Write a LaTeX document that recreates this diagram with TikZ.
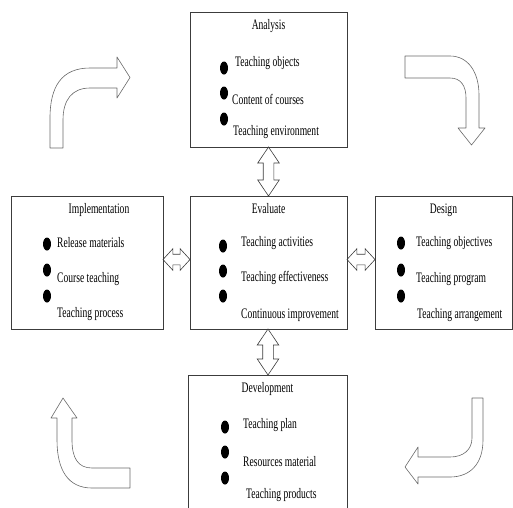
\documentclass[tikz,border=0pt]{standalone}
\usepackage{fontspec}
\setmainfont{Liberation Serif}
\usetikzlibrary{calc,positioning,shapes.arrows}
\definecolor{boxgray}{RGB}{60,60,60}
\definecolor{arrowgray}{RGB}{105,105,105}
\newcommand{\squeezed}[1]{\scalebox{0.66}[1]{#1}}

\tikzset{
  stage/.style={draw=boxgray, line width=0.7pt, inner sep=0pt},
  stagetitle/.style={inner sep=0pt, font=\fontsize{14.5}{17}\selectfont},
  stageitem/.style={anchor=west, inner sep=0pt, font=\fontsize{14.5}{17}\selectfont},
  link/.style={draw=boxgray, line width=0.6pt, double arrow, inner sep=5pt,
    minimum width=21pt, double arrow head extend=5.5pt, double arrow tip angle=#1},
  turn/.style={draw=arrowgray, line width=0.6pt, line join=round}
}

\begin{document}
\begin{tikzpicture}[x=1pt, y=-1pt]
  \useasboundingbox (0,0) rectangle (513,507);
  \clip (0,0) rectangle (513,507);

  % the five stages
  \node[stage, minimum width=157pt, minimum height=135pt] (ana) at (268.5,79.5) {};
  \node[stage, minimum width=157pt, minimum height=133pt] (eva) at (268.5,262.5) {};
  \node[stage, minimum width=152pt, minimum height=133pt] (imp) at (87,262.5) {};
  \node[stage, minimum width=137pt, minimum height=133pt] (des) at (443.5,262.5) {};
  \node[stage, minimum width=159pt, minimum height=136pt] (dev) at (267.5,443) {};

  % titles
  \node[stagetitle, below=8pt of ana.north] (ana-t) {\squeezed{Analysis}};
  \node[stagetitle, below=8pt of eva.north] (eva-t) {\squeezed{Evaluate}};
  \node[stagetitle, below=8pt of imp.north, xshift=12pt] (imp-t) {\squeezed{Implementation}};
  \node[stagetitle, below=8pt of des.north] (des-t) {\squeezed{Design}};
  \node[stagetitle, below=8pt of dev.north] (dev-t) {\squeezed{Development}};

  % Analysis
  \fill (224,68) ellipse (4 and 6.5);
  \fill (224,93) ellipse (4 and 6.5);
  \fill (224,119) ellipse (4 and 6.5);
  \node[stageitem] (ana-1) at (235,63) {\squeezed{Teaching objects}};
  \node[stageitem] (ana-2) at (232,99) {\squeezed{Content of courses}};
  \node[stageitem] (ana-3) at (233,132) {\squeezed{Teaching environment}};

  % Evaluate
  \fill (223,246) ellipse (4 and 6.5);
  \fill (223,271) ellipse (4 and 6.5);
  \fill (223,296) ellipse (4 and 6.5);
  \node[stageitem] (eva-1) at (241,243) {\squeezed{Teaching activities}};
  \node[stageitem] (eva-2) at (241,278) {\squeezed{Teaching effectiveness}};
  \node[stageitem] (eva-3) at (241,315) {\squeezed{Continuous improvement}};

  % Implementation
  \fill (47,244) ellipse (4 and 6.5);
  \fill (47,270) ellipse (4 and 6.5);
  \fill (47,296) ellipse (4 and 6.5);
  \node[stageitem] (imp-1) at (57,243) {\squeezed{Release materials}};
  \node[stageitem] (imp-2) at (57,279) {\squeezed{Course teaching}};
  \node[stageitem] (imp-3) at (57,314) {\squeezed{Teaching process}};

  % Design
  \fill (401,243) ellipse (4 and 6.5);
  \fill (401,270) ellipse (4 and 6.5);
  \fill (401,296) ellipse (4 and 6.5);
  \node[stageitem] (des-1) at (416,243) {\squeezed{Teaching objectives}};
  \node[stageitem] (des-2) at (416,279) {\squeezed{Teaching program}};
  \node[stageitem] (des-3) at (417,315) {\squeezed{Teaching arrangement}};

  % Development
  \fill (225,427) ellipse (4 and 6.5);
  \fill (225,452) ellipse (4 and 6.5);
  \fill (225,478) ellipse (4 and 6.5);
  \node[stageitem] (dev-1) at (243,425) {\squeezed{Teaching plan}};
  \node[stageitem] (dev-2) at (243,462) {\squeezed{Resources material}};
  \node[stageitem] (dev-3) at (246,495) {\squeezed{Teaching products}};

  % links to the centre
  \node[link=68, rotate=90, minimum height=49pt] (ana-eva) at ($(ana.south)!0.5!(eva.north)$) {};
  \node[link=68, rotate=90, minimum height=46pt] (eva-dev) at ($(eva.south)!0.5!(dev.north)$) {};
  \node[link=95, minimum height=27pt, yshift=3pt] (imp-eva) at ($(imp.east)!0.5!(eva.west)$) {};
  \node[link=95, minimum height=28pt, yshift=3pt] (eva-des) at ($(eva.east)!0.5!(des.west)$) {};

  % turning arrows round the cycle
  \draw[turn] (50,148) -- (50,118) .. controls (50,86) and (62,68) .. (90,68)
    -- (117,68) -- (117,57) -- (130,77.5) -- (117,98) -- (117,88) -- (90,88)
    .. controls (72,88) and (63,100) .. (63,120) -- (63,148) -- cycle;
  \draw[turn] (405,56) -- (450,56) .. controls (468,56) and (479,72) .. (479,95)
    -- (479,128) -- (485,128) -- (471.5,145) -- (458,128) -- (466,128) -- (466,98)
    .. controls (466,86) and (461,78) .. (450,78) -- (405,78) -- cycle;
  \draw[turn] (472,398) -- (483,398) -- (483,440) .. controls (483,464) and (470,477) .. (450,477)
    -- (418,477) -- (418,484) -- (405,467) -- (418,447) -- (418,457) -- (450,457)
    .. controls (463,457) and (472,450) .. (472,438) -- cycle;
  \draw[turn] (63,398) -- (77,418) -- (72,418) -- (72,440) .. controls (72,458) and (78,468) .. (92,468)
    -- (130,468) -- (130,488) -- (92,488) .. controls (68,488) and (57,470) .. (57,440)
    -- (57,418) -- (51,418) -- cycle;
\end{tikzpicture}
\end{document}
